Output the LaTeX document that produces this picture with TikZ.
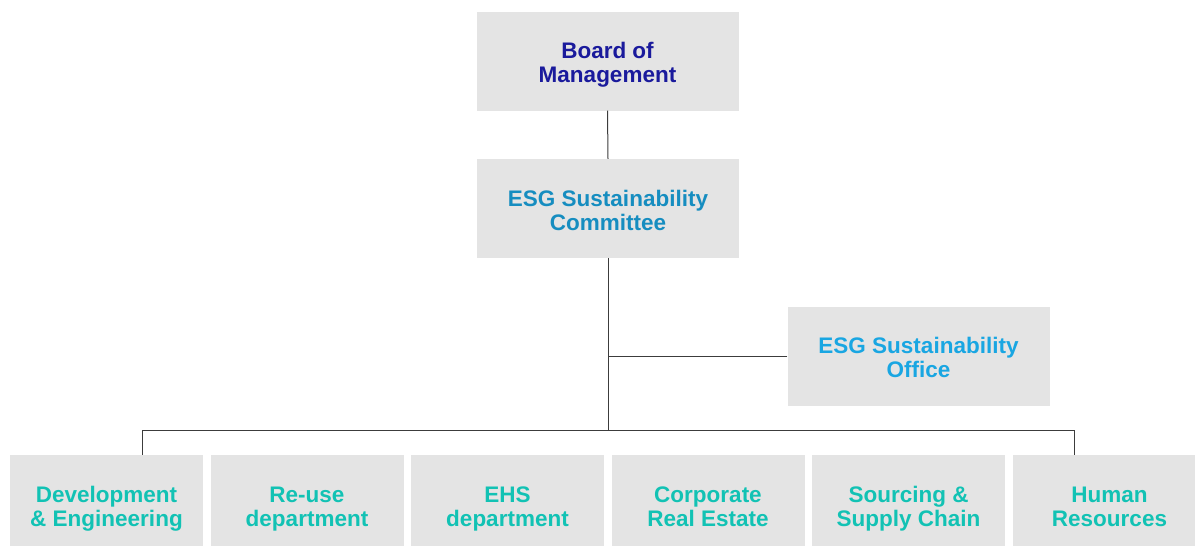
\documentclass[tikz,border=0pt]{standalone}
\usepackage{fontspec}
\setmainfont{Liberation Sans}
\definecolor{boxfill}{HTML}{E4E4E4}
\definecolor{boardtext}{HTML}{1A1A9C}
\definecolor{committeetext}{HTML}{168DC0}
\definecolor{officetext}{HTML}{19A6E2}
\definecolor{depttext}{HTML}{12C2B4}
\definecolor{linkgray}{HTML}{3C3C3C}
% two centred lines with fixed baselines, independent of the letters used
\newcommand\twolines[2]{\rule{0pt}{25pt}#1\\#2\rule[-6pt]{0pt}{6pt}}
\begin{document}
\begin{tikzpicture}[x=1pt,y=-1pt,
  orgbox/.style={fill=boxfill, inner sep=0pt, align=center,
    font=\fontsize{22.5}{24}\selectfont\bfseries},
  topbox/.style={orgbox, minimum width=262pt, minimum height=99pt},
  deptbox/.style={orgbox, text=depttext, minimum width=193pt, minimum height=99pt},
  link/.style={draw=linkgray, line width=1pt}]
  \clip (0,0) rectangle (1195,546);
  \fill[white] (0,0) rectangle (1195,546);

  % upper levels
  \node[topbox, text=boardtext] (board) at (607.5,61) {\twolines{Board of}{Management}};
  \node[topbox, text=committeetext] (comm) at (608,208.5) {\twolines{ESG Sustainability}{Committee}};
  \node[topbox, text=officetext] (office) at (918.5,356) {\twolines{ESG Sustainability}{Office}};

  % departments
  \node[deptbox] (dev) at (106.5,504.5) {\twolines{Development}{\& Engineering}};
  \node[deptbox] (reuse) at (307,504.5) {\twolines{Re-use}{department}};
  \node[deptbox] (ehs) at (507.5,504.5) {\twolines{EHS}{department}};
  \node[deptbox] (cre) at (708,504.5) {\twolines{Corporate}{Real Estate}};
  \node[deptbox] (ssc) at (908.5,504.5) {\twolines{Sourcing \&}{Supply Chain}};
  \node[deptbox] (hr) at (1109.5,504.5) {\twolines{Human}{Resources}};

  % connectors
  \coordinate (busL) at (142,430);
  \coordinate (busR) at (1074,430);
  \draw[link] (board.south) -- (comm.north);
  \draw[link] (comm.south) -- (comm.south |- busL);
  \draw[link] (office.west) -- (office.west -| comm.south);
  \draw[link] (dev.north -| busL) -- (busL) -- (busR) -- (hr.north -| busR);
\end{tikzpicture}
\end{document}
